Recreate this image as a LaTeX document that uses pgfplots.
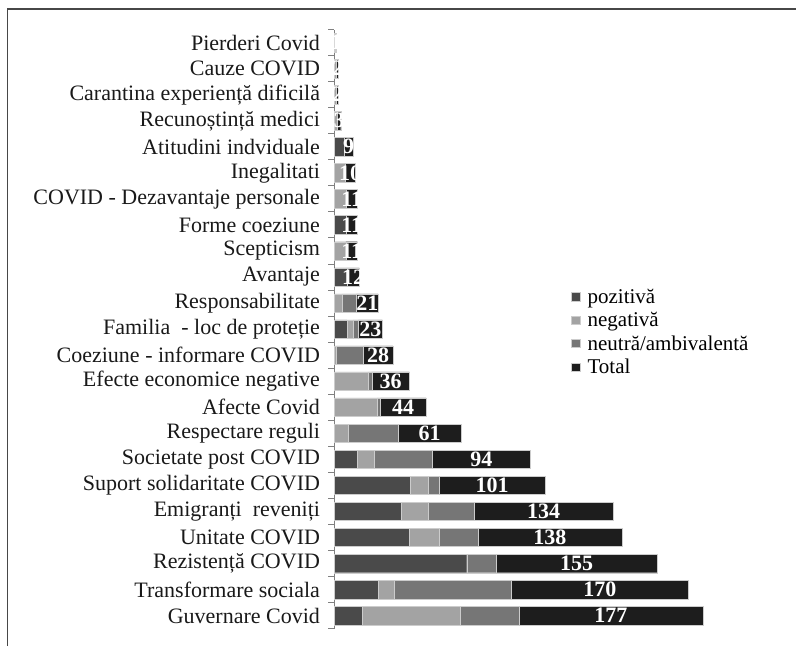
\documentclass[border=0pt]{standalone}
\usepackage{fontspec}
\setmainfont{Liberation Serif}
\usepackage{pgfplots}
\pgfplotsset{compat=1.18}
\usepackage{pgfplotstable}

\definecolor{cpos}{HTML}{4A4A4A}
\definecolor{cneg}{HTML}{A3A3A3}
\definecolor{cneu}{HTML}{767676}
\definecolor{ctot}{HTML}{1D1D1D}

% idx 0 = bottom bar (Guvernare Covid)
\pgfplotstableread[col sep=comma]{
idx,pos,neg,neu,tot
0,27,94,56,177
1,42,15,113,170
2,127,0,28,155
3,72,29,37,138
4,64,26,44,134
5,73,17,11,101
6,22,16,56,94
7,0,13,48,61
8,0,41,3,44
9,0,32,4,36
10,0,2,26,28
11,12,6,5,23
12,0,7,14,21
13,12,0,0,12
14,0,11,0,11
15,11,0,0,11
16,0,11,0,11
17,0,10,0,10
18,9,0,0,9
19,0,3,0,3
20,0,2,0,2
21,0,2,0,2
22,1,0,0,1
}\datatable

\begin{document}
\begin{tikzpicture}[x=1pt,y=1pt]
\useasboundingbox (0,0) rectangle (796,646);
\draw[black!72, line width=1.3pt] (7.5,0) -- (7.5,637) -- (796,637);
\begin{axis}[
    at={(334.5pt,17.4pt)}, anchor=south west,
    scale only axis, width=416.4pt, height=599pt,
    xbar stacked, bar width=18.5pt,
    xmin=0, xmax=400,
    ymin=-0.5, ymax=22.5,
    axis x line=none,
    axis y line*=left,
    ytick={0,...,22},
    yticklabels={Guvernare Covid, Transformare sociala, Rezistență COVID~, Unitate COVID, Emigranți~ reveniți, Suport solidaritate COVID, Societate post COVID, Respectare reguli, Afecte Covid, Efecte economice negative, Coeziune - informare COVID, Familia~ - loc de proteție, Responsabilitate, Avantaje, Scepticism~, Forme coeziune, COVID - Dezavantaje personale, Inegalitati, Atitudini indviduale, Recunoștință medici, Carantina experiență dificilă, Cauze COVID, Pierderi Covid},
    minor ytick={-0.5,0.5,...,22.5},
    major tick length=0pt, minor tick length=6pt, tick align=outside,
    y axis line style={draw=black!50, line width=0.9pt},
    ytick style={draw=black!50, line width=0.9pt},
    yticklabel style={font=\fontsize{22}{22}\selectfont, text=black!90, xshift=-11pt},
    clip=false,
    legend style={at={(rel axis cs:0.568,0.571)}, anchor=north west, draw=none, fill=none,
        font=\fontsize{21}{21}\selectfont, row sep=3.5pt, inner sep=0pt},
    legend cell align=left,
    legend image code/.code={\fill[#1] (0pt,-4.2pt) rectangle (8.4pt,4.2pt); \path (0pt,0pt) (14pt,0pt);},
    every axis plot/.append style={draw=black!20, line width=0.4pt},
]
\addplot[fill=cpos] table[x=pos,y=idx]{\datatable};
\addplot[fill=cneg] table[x=neg,y=idx]{\datatable};
\addplot[fill=cneu] table[x=neu,y=idx]{\datatable};
\addplot[fill=ctot,
    point meta=explicit,
    nodes near coords={\pgfmathprintnumber[assume math mode=true]{\pgfplotspointmeta}},
    nodes near coords style={font=\fontsize{22}{22}\selectfont\bfseries, text=white},
] table[x=tot,y=idx,meta=tot]{\datatable};
\legend{pozitivă, negativă, neutră/ambivalentă, Total}
\end{axis}
\end{tikzpicture}
\end{document}
